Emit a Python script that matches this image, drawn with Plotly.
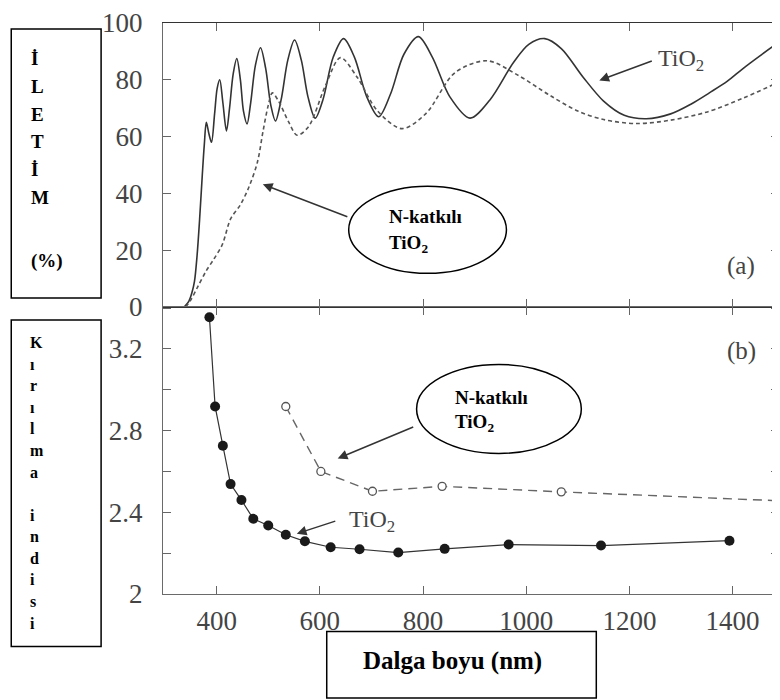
import plotly.graph_objects as go
from plotly.subplots import make_subplots

# ---------------- data ----------------
# (a) Transmission (%) vs wavelength (nm)
wl_tio2_T = [337, 346, 352, 357, 362, 367, 372, 376, 380, 385, 390, 396, 401, 406, 412, 419,
             425, 432, 439, 446, 452, 459, 466, 475, 485, 495, 505, 514, 525, 538, 551, 564,
             577, 591, 606, 626, 646, 667, 691, 714, 737, 763, 791, 818, 852, 891, 930, 975,
             1005, 1036, 1068, 1110, 1150, 1190, 1233, 1280, 1320, 1355, 1390, 1419, 1455,
             1488, 1510]
T_tio2 = [0, 2, 5, 9, 18, 31, 46, 57, 65, 61, 58, 68, 77, 80, 72, 62,
          70, 82, 87.5, 80, 69, 64.5, 72, 85, 91.3, 84, 71, 65.5, 73, 87, 94, 87,
          74, 66.5, 73, 88, 94.5, 88, 74, 67, 75, 89, 95.2, 88, 74, 66.5, 73, 86,
          92.5, 94.5, 91, 81, 72.5, 67.5, 66.3, 68, 71.5, 75.4, 79.5, 83.8, 88.7,
          93, 95.5]

wl_nd_T = [340, 350, 363, 379, 395, 411, 427, 446, 462, 479, 490, 500, 508, 520, 540, 556,
           578, 611, 640, 672, 712, 759, 805, 862, 924, 985, 1046, 1100, 1150, 1214, 1280,
           1349, 1420, 1488, 1510]
T_nd = [0, 2.5, 7, 12.5, 17, 22, 31, 36, 42, 51, 62, 71, 75.4, 72.5, 65, 60.5,
        63.5, 78, 87.8, 81, 69, 62.8, 68, 82.5, 86.7, 81.5, 74.5, 69, 66, 64.6, 65.8,
        68.6, 73.5, 79, 80.5]

# (b) Refractive index vs wavelength (nm)
wl_tio2_n = [386, 397, 412, 427, 448, 471, 500, 534, 571, 621, 677, 752, 842, 966, 1145, 1394]
n_tio2 = [3.355, 2.918, 2.726, 2.538, 2.46, 2.368, 2.335, 2.29, 2.258, 2.229, 2.219, 2.203,
          2.221, 2.242, 2.237, 2.261]

wl_nd_n = [534, 602, 702, 837, 1068, 1650]
n_nd = [2.918, 2.6, 2.503, 2.527, 2.5, 2.44]

x_ticks = [400, 600, 800, 1000, 1200, 1400]
T_ticks = [0, 20, 40, 60, 80, 100]
n_ticks = [2.0, 2.2, 2.4, 2.6, 2.8, 3.0, 3.2, 3.4]
n_ticktext = ["2", "", "2.4", "", "2.8", "", "3.2", ""]

box1_letters = ["İ", "L", "E", "T", "İ", "M"]
box1_unit = "(%)"
box2_letters = ["K", "ı", "r", "ı", "l", "m", "a", "", "i", "n", "d", "i", "s", "i"]
xlabel = "Dalga boyu (nm)"
ellipse_line1 = "N-katkılı"
ellipse_line2 = "TiO<sub>2</sub>"
tio2_label = "TiO<sub>2</sub>"

# ---------------- layout helpers ----------------
# The page body has an 8px margin, so the figure is drawn 8px right/down.
OFF = 8
W, H = 780 - OFF, 700 - OFF
ML, MR, MT, MB = 163 - OFF, 0, 17 - OFF, H - (594 - OFF)
PW = W - ML - MR
PH = H - MT - MB


def px(x):
    """page x (reference pixels) -> paper x"""
    return (x - OFF - ML) / PW


def py(y):
    """page y (reference pixels) -> paper y"""
    return (H - MB - (y - OFF)) / PH


SERIF = "Liberation Serif"

fig = make_subplots(rows=2, cols=1, shared_xaxes=True, vertical_spacing=0,
                    row_heights=[287, 290])

fig.add_trace(go.Scatter(x=wl_tio2_T, y=T_tio2, mode="lines",
                         line=dict(color="#333333", width=1.6, shape="spline", smoothing=0.9),
                         hoverinfo="skip"), row=1, col=1)
fig.add_trace(go.Scatter(x=wl_nd_T, y=T_nd, mode="lines",
                         line=dict(color="#555555", width=1.6, dash="4px,3px",
                                   shape="spline", smoothing=0.9),
                         hoverinfo="skip"), row=1, col=1)

fig.add_trace(go.Scatter(x=wl_tio2_n, y=n_tio2, mode="lines+markers",
                         line=dict(color="#333333", width=1.2),
                         marker=dict(size=10, color="#1a1a1a"),
                         hoverinfo="skip"), row=2, col=1)
fig.add_trace(go.Scatter(x=wl_nd_n, y=n_nd, mode="lines+markers",
                         line=dict(color="#666666", width=1.4, dash="9px,6px"),
                         marker=dict(size=8, color="white", line=dict(color="#555555", width=1.3)),
                         hoverinfo="skip"), row=2, col=1)

common = dict(showline=True, linecolor="#6a6a6a", linewidth=1.2, mirror="ticks",
              ticks="inside", ticklen=8, tickwidth=1.2, tickcolor="#666666",
              showgrid=False, zeroline=False, ticklabeloverflow="allow",
              tickfont=dict(family=SERIF, size=27, color="#444444"))

fig.update_xaxes(range=[296, 1490], tickvals=x_ticks, **common)
fig.update_xaxes(showticklabels=False, linecolor="#333333", row=1, col=1)
fig.update_xaxes(ticklabelstandoff=2, row=2, col=1)
fig.update_yaxes(range=[0, 100], tickvals=T_ticks, ticklabelstandoff=14, row=1, col=1, **common)
fig.update_yaxes(range=[2.0, 3.405], tickvals=n_ticks, ticktext=n_ticktext,
                 ticklabelstandoff=14, row=2, col=1, **common)

shapes = []
for (x0, y0, x1, y1) in [(11, 23, 101, 295), (11, 317, 101, 647), (327, 632, 597, 699)]:
    shapes.append(dict(type="rect", xref="paper", yref="paper",
                       x0=px(x0), x1=px(x1), y0=py(y1), y1=py(y0),
                       line=dict(color="black", width=1.5), fillcolor="rgba(0,0,0,0)"))
for (x0, y0, x1, y1) in [(349, 182, 507, 270), (417, 362, 582, 452)]:
    shapes.append(dict(type="circle", xref="paper", yref="paper",
                       x0=px(x0), x1=px(x1), y0=py(y1), y1=py(y0),
                       line=dict(color="black", width=1.5), fillcolor="white", layer="above"))

ann = []


def text(t, x, y, size, bold=False, color="black", xanchor="left"):
    ann.append(dict(text=("<b>%s</b>" % t) if bold else t, x=px(x), y=py(y),
                    xref="paper", yref="paper", showarrow=False,
                    xanchor=xanchor, yanchor="middle",
                    font=dict(family=SERIF, size=size, color=color)))


def arrow(x_head, y_head, x_tail, y_tail):
    ann.append(dict(text="", x=px(x_head), y=py(y_head), xref="paper", yref="paper",
                    showarrow=True, ax=x_tail - x_head, ay=y_tail - y_head,
                    arrowhead=2, arrowsize=1.3, arrowwidth=1.5, arrowcolor="#333333",
                    standoff=0, startstandoff=0))


# box 1 letters
for i, ch in enumerate(box1_letters):
    text(ch, 29, 53 + 28 * i, 19, bold=True)
text(box1_unit, 29, 257, 19, bold=True)
# box 2 letters
for i, ch in enumerate(box2_letters):
    if ch:
        text(ch, 28, 340 + 21.8 * i, 16, bold=True)
# x label
text(xlabel, 453, 662, 25, bold=True, xanchor="center")

# ellipse texts
text(ellipse_line1, 387, 213, 19, bold=True)
text(ellipse_line2, 387, 240, 19, bold=True)
text(ellipse_line1, 453, 395, 19, bold=True)
text(ellipse_line2, 453, 421, 19, bold=True)

# TiO2 labels
text(tio2_label, 657, 54, 24, color="#444444")
text(tio2_label, 347, 520, 24, color="#444444")

# panel letters
text("(a)", 742, 263, 25, color="#444444", xanchor="center")
text("(b)", 742, 348, 25, color="#444444", xanchor="center")

# arrows
arrow(263, 180, 349, 213)
arrow(338, 457, 415, 425)
arrow(600, 75, 654, 55)
arrow(297, 533, 337, 520)

fig.update_layout(width=W, height=H, margin=dict(l=ML, r=MR, t=MT, b=MB, pad=0),
                  plot_bgcolor="white", paper_bgcolor="white", showlegend=False,
                  font=dict(family=SERIF), shapes=shapes, annotations=ann)

fig.write_html("out.html")
